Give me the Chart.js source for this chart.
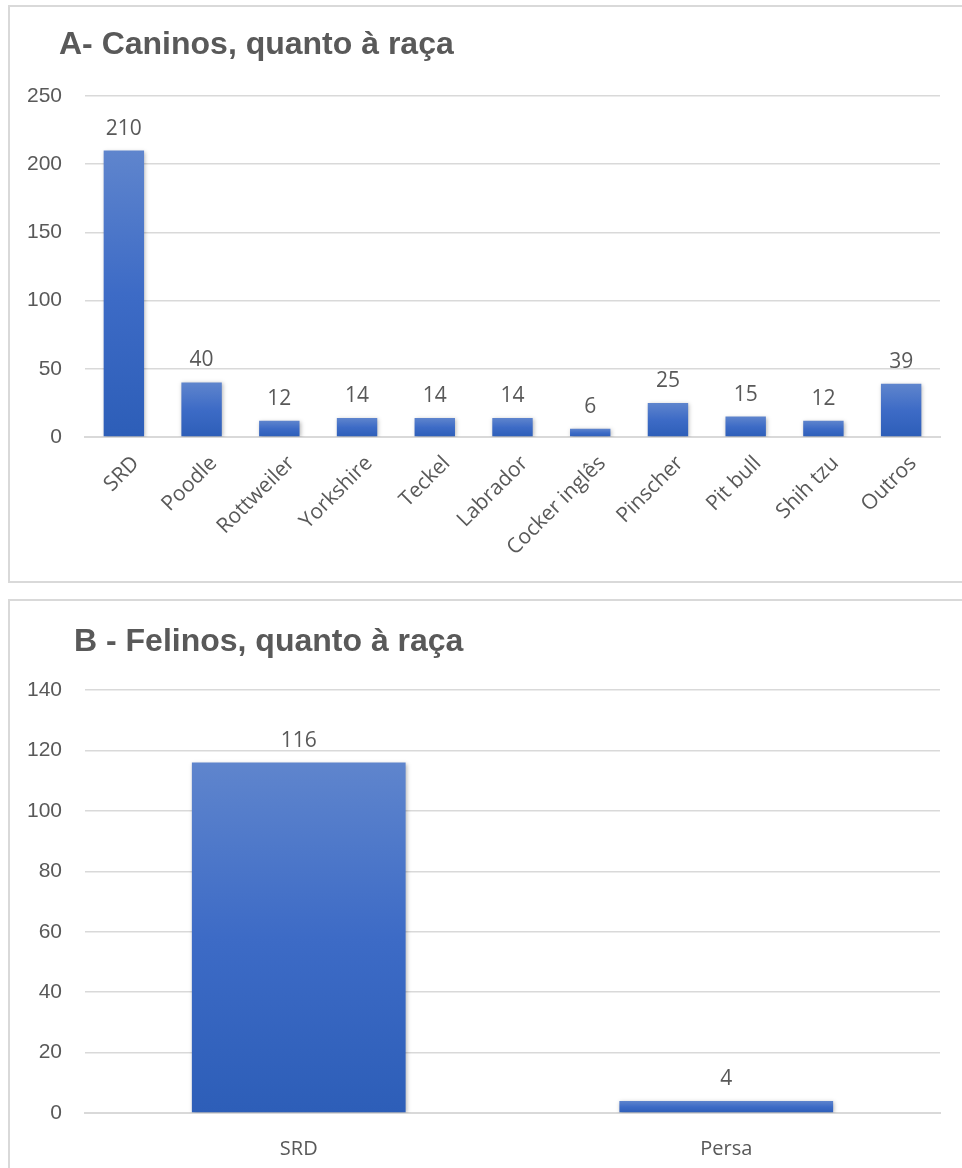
<!DOCTYPE html>
<html>
<head>
<meta charset="utf-8">
<script src="https://cdn.jsdelivr.net/npm/chart.js@4/dist/chart.umd.min.js"></script>
<style>
  body { margin: 0; background: #fff; width: 962px; height: 1168px; overflow: hidden; position: relative; }
  .caixa { position: absolute; left: 8px; width: 980px; border: 2px solid #d9d9d9; background: #fff; }
  .titulo { position: absolute; font-family: "Liberation Sans", Arial, sans-serif; font-weight: bold;
            font-size: 32px; line-height: 32px; color: #595959; white-space: nowrap; }
  canvas { position: absolute; left: 0; top: 0; }
</style>
</head>
<body>
<div class="caixa" id="boxA" style="top:5px; height:574px;">
  <canvas id="chartCaninos" width="952" height="574"></canvas>
  <div class="titulo" style="left:49px; top:20px;">A- Caninos, quanto à raça</div>
</div>
<div class="caixa" id="boxB" style="top:599px; height:580px;">
  <canvas id="chartFelinos" width="952" height="567"></canvas>
  <div class="titulo" style="left:64px; top:23px;">B - Felinos, quanto à raça</div>
</div>

<script>
// Dados - Caninos
const racasCaninos = ['SRD', 'Poodle', 'Rottweiler', 'Yorkshire', 'Teckel', 'Labrador',
                      'Cocker inglês', 'Pinscher', 'Pit bull', 'Shih tzu', 'Outros'];
const valoresCaninos = [210, 40, 12, 14, 14, 14, 6, 25, 15, 12, 39];
const ticksCaninos = [0, 50, 100, 150, 200, 250];

// Dados - Felinos
const racasFelinos = ['SRD', 'Persa'];
const valoresFelinos = [116, 4];
const ticksFelinos = [0, 20, 40, 60, 80, 100, 120, 140];

const corTexto = '#595959';
const corGrade = '#d9d9d9';

// degradê por barra (mais claro no topo)
function degradeBarra(context) {
    const chart = context.chart;
    const y = chart.scales && chart.scales.y;
    if (!y || context.raw == null || !isFinite(y.getPixelForValue(0))) return '#4472c4';
    const topo = y.getPixelForValue(context.raw);
    const base = y.getPixelForValue(0);
    if (!(base > topo)) return '#4472c4';
    const g = chart.ctx.createLinearGradient(0, topo, 0, base);
    g.addColorStop(0, '#5f85cd');
    g.addColorStop(0.5, '#3d6bc6');
    g.addColorStop(1, '#2d5eb8');
    return g;
}

// sombra leve nas barras
const sombraBarras = {
    id: 'sombraBarras',
    beforeDatasetsDraw(chart) {
        const ctx = chart.ctx;
        ctx.save();
        ctx.shadowColor = 'rgba(0,0,0,0.28)';
        ctx.shadowBlur = 4;
        ctx.shadowOffsetX = 1;
        ctx.shadowOffsetY = 1;
    },
    afterDatasetsDraw(chart) {
        chart.ctx.restore();
    }
};

// rótulos de valor acima das barras
const rotulosValor = {
    id: 'rotulosValor',
    afterDatasetsDraw(chart, args, opts) {
        const ctx = chart.ctx;
        const meta = chart.getDatasetMeta(0);
        const dados = chart.data.datasets[0].data;
        ctx.save();
        ctx.font = '21px "Open Sans", sans-serif';
        ctx.fillStyle = corTexto;
        ctx.textAlign = 'center';
        ctx.textBaseline = 'alphabetic';
        meta.data.forEach((barra, i) => {
            ctx.fillText(String(dados[i]), barra.x, barra.y - (opts.gap || 16));
        });
        ctx.restore();
    }
};

function criarGrafico(id, rotulos, valores, ticks, cfg) {
    const ctx = document.getElementById(id).getContext('2d');
    return new Chart(ctx, {
        type: 'bar',
        data: {
            labels: rotulos,
            datasets: [{
                data: valores,
                backgroundColor: degradeBarra,
                borderWidth: 0,
                categoryPercentage: 1,
                barPercentage: cfg.barPct
            }]
        },
        options: {
            responsive: false,
            animation: false,
            layout: { padding: { top: cfg.top, right: cfg.right, left: 0, bottom: 0 } },
            plugins: {
                legend: { display: false },
                tooltip: { enabled: false },
                rotulosValor: { gap: 16 }
            },
            scales: {
                x: {
                    grid: { display: false },
                    border: { display: true, color: corGrade, width: 2 },
                    ticks: {
                        color: corTexto,
                        font: { family: '"Open Sans", sans-serif', size: cfg.xFont },
                        minRotation: cfg.rot, maxRotation: cfg.rot,
                        padding: cfg.xPad,
                        labelOffset: cfg.xOffset,
                        autoSkip: false
                    },
                    afterFit(scale) { scale.height = cfg.xHeight; }
                },
                y: {
                    min: 0,
                    max: ticks[ticks.length - 1],
                    afterBuildTicks(scale) { scale.ticks = ticks.map(v => ({ value: v })); },
                    grid: { color: corGrade, lineWidth: 1.5, drawTicks: false },
                    border: { display: false },
                    ticks: {
                        color: corTexto,
                        font: { family: cfg.yFamily, size: cfg.yFont },
                        padding: 23
                    },
                    afterFit(scale) { scale.width = 75; }
                }
            }
        },
        plugins: [sombraBarras, rotulosValor]
    });
}

document.addEventListener('DOMContentLoaded', function() {
    criarGrafico('chartCaninos', racasCaninos, valoresCaninos, ticksCaninos, {
        barPct: 0.52, top: 89, right: 22, xHeight: 144, rot: 45, xPad: 6, xOffset: 12, xFont: 21,
        yFamily: '"Liberation Sans", Arial, sans-serif', yFont: 21
    });
    criarGrafico('chartFelinos', racasFelinos, valoresFelinos, ticksFelinos, {
        barPct: 0.5, top: 89, right: 22, xHeight: 55, rot: 0, xPad: 16, xOffset: 0, xFont: 20,
        yFamily: '"Liberation Sans", Arial, sans-serif', yFont: 21
    });
});
</script>
</body>
</html>
